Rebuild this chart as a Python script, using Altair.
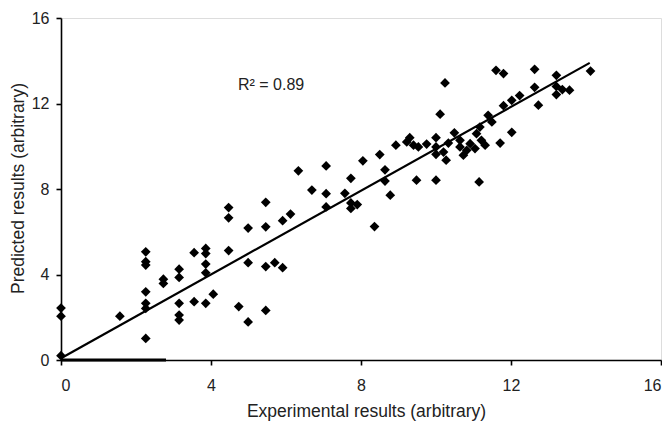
import altair as alt
import pandas as pd

# Experimental (x) vs predicted (y) values
exp_x = [0.0, 0.0, 0.0, 1.57,
         2.26, 2.26, 2.26, 2.26, 2.26, 2.26, 2.26,
         2.73, 2.73,
         3.15, 3.15, 3.15, 3.15, 3.15,
         3.55, 3.55,
         3.86, 3.86, 3.86, 3.86, 3.86,
         4.06,
         4.47, 4.47, 4.47,
         4.74,
         4.99, 4.99, 4.99,
         5.46, 5.46, 5.46, 5.46,
         5.70,
         5.91, 5.91,
         6.12,
         6.33,
         6.69,
         7.07, 7.07, 7.07,
         7.57,
         7.73,
         7.73, 7.90, 7.73,
         8.05,
         8.36,
         8.50,
         8.64, 8.64,
         8.78,
         8.93,
         9.30, 9.22, 9.40, 9.53,
         9.48,
         9.75,
         10.0, 10.0, 10.0, 10.0,
         10.11,
         10.24,
         10.20, 10.27,
         10.33,
         10.49,
         10.64, 10.64,
         10.73,
         10.82,
         10.91,
         11.04,
         11.08,
         11.17,
         11.15,
         11.21,
         11.31,
         11.39,
         11.49,
         11.60,
         11.71,
         11.80,
         11.80,
         12.02,
         12.02,
         12.23,
         12.63,
         12.63,
         12.73,
         13.21, 13.21, 13.21,
         13.37,
         13.56,
         14.12]
pred_y = [2.43, 2.05, 0.20, 2.05,
          5.06, 4.60, 4.44, 3.19, 2.65, 2.41, 1.01,
          3.78, 3.58,
          4.25, 3.86, 2.65, 2.10, 1.87,
          5.02, 2.73,
          5.22, 4.98, 4.49, 4.08, 2.65,
          3.08,
          7.13, 6.65, 5.12,
          2.50,
          6.17, 4.55, 1.78,
          7.38, 6.23, 4.37, 2.32,
          4.55,
          6.52, 4.32,
          6.83,
          8.85,
          7.95,
          9.08, 7.78, 7.16,
          7.80,
          8.50,
          7.35, 7.27, 7.09,
          9.32,
          6.24,
          9.61,
          8.90, 8.37,
          7.71,
          10.05,
          10.40, 10.20, 10.05, 9.97,
          8.41,
          10.10,
          10.40, 9.97, 9.62, 8.41,
          11.50,
          12.96,
          9.73, 9.35,
          10.15,
          10.63,
          10.28, 9.97,
          9.58,
          9.81,
          10.12,
          9.89,
          10.59,
          10.90,
          8.33,
          10.28,
          10.05,
          11.45,
          11.14,
          13.55,
          10.15,
          13.40,
          11.90,
          12.15,
          10.65,
          12.37,
          13.60,
          12.76,
          11.92,
          13.32, 12.80, 12.42,
          12.65,
          12.62,
          13.52]

fit_x = [0.0, 14.1]
fit_y = [0.08, 13.9]
base_x = [0.0, 2.8]
base_y = [0.0, 0.0]
tick_vals = [0, 4, 8, 12, 16]
r2_label = "R² = 0.89"
x_title = "Experimental results (arbitrary)"
y_title = "Predicted results (arbitrary)"

FONT = "Liberation Sans"
TXT = "#222222"

pts = pd.DataFrame({"x": exp_x, "y": pred_y})
fit = pd.DataFrame({"x": fit_x, "y": fit_y})
base = pd.DataFrame({"x": base_x, "y": base_y})
lab = pd.DataFrame({"t": [r2_label]})

xs = alt.Scale(domain=[0, 16], nice=False, zero=False)
ys = alt.Scale(domain=[0, 16], nice=False, zero=False)

common_axis = dict(values=tick_vals, grid=False, domainColor="black", domainWidth=1.6,
                   tickColor="black", tickWidth=1.6, tickSize=5,
                   labelFont=FONT, labelFontSize=16, labelColor=TXT,
                   titleFont=FONT, titleFontSize=17.5, titleColor=TXT,
                   titleFontWeight="normal", titleBaseline="alphabetic",
                   titleAlign="center")
x_axis = alt.Axis(title=x_title, labelPadding=12, titleX=305, titleY=56, **common_axis)
y_axis = alt.Axis(title=y_title, labelPadding=7, titleX=-38, titleY=170, **common_axis)

X = lambda: alt.X("x:Q", scale=xs, axis=x_axis)
Y = lambda: alt.Y("y:Q", scale=ys, axis=y_axis)

points = alt.Chart(pts).mark_point(shape="diamond", filled=True, color="black",
                                   size=95, opacity=1).encode(x=X(), y=Y())
line = alt.Chart(fit).mark_line(color="black", strokeWidth=2.2).encode(x=X(), y=Y())
baseline = alt.Chart(base).mark_line(color="black", strokeWidth=3).encode(x=X(), y=Y())
text = alt.Chart(lab).mark_text(font=FONT, fontSize=16, color=TXT, align="left",
                                baseline="alphabetic").encode(
    x=alt.value(177), y=alt.value(72), text="t:N")

chart = alt.layer(baseline, line, points, text).properties(
    width=600, height=342,
    autosize=alt.AutoSizeParams(type="none"),
    padding={"left": 53, "top": 10, "right": 1, "bottom": 61},
).configure_view(stroke=None).configure(background="white")

chart.save("out.html", embed_options={"renderer": "svg", "actions": False})
